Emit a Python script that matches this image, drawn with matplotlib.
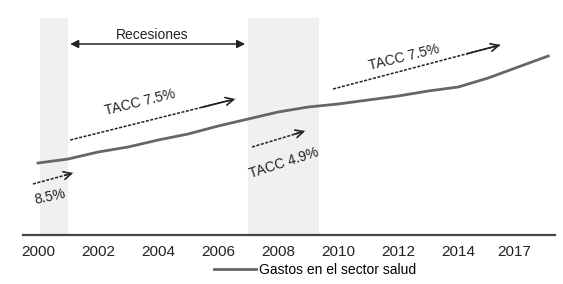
import matplotlib.pyplot as plt

# datos
years = list(range(2000, 2018))
gastos = [72, 76, 83, 88, 95, 101, 109, 116, 123, 128, 131, 135, 139, 144, 148, 157, 168, 179]

tick_pos = [2000, 2002, 2004, 2006, 2008, 2010, 2012, 2014, 2015.85]
tick_labels = ['2000', '2002', '2004', '2006', '2008', '2010', '2012', '2014', '2017']

# periodos de recesión (sombreados)
recesiones = [(2000.05, 2001.0), (2007.0, 2009.35)]

# anotaciones TACC: (texto, inicio, fin, posición texto, rotación)
tacc = [
    ('8.5%', (1999.83, 51), (2001.17, 62), (2000.4, 38), 12),
    ('TACC 7.5%', (2001.07, 95), (2006.57, 136), (2003.4, 133), 14),
    ('TACC 4.9%', (2007.13, 88), (2008.9, 104), (2008.2, 72), 18),
    ('TACC 7.5%', (2009.83, 146), (2015.4, 190), (2012.2, 178), 14),
]

plt.rcParams['font.family'] = ['Liberation Sans', 'DejaVu Sans']

fig = plt.figure(figsize=(5.63, 2.84), dpi=100)
ax = fig.add_axes([0.041, 0.1725, 0.945, 0.8275])

for a, b in recesiones:
    ax.fill_between([a, b], 0, 217, color='#f0f0f0', lw=0, zorder=0)

ax.plot(years, gastos, color='#666666', lw=2.0, label='Gastos en el sector salud', zorder=3)

# flecha de recesiones
ax.annotate('', xy=(2001.07, 191), xytext=(2006.9, 191),
            arrowprops=dict(arrowstyle='<|-|>', color='#222222', lw=1.1,
                            mutation_scale=12, shrinkA=0, shrinkB=0))
ax.text(2003.8, 200, 'Recesiones', ha='center', va='center', fontsize=10, color='#222222')

for txt, p0, p1, pt, rot in tacc:
    ax.plot([p0[0], p1[0]], [p0[1], p1[1]], color='#222222', lw=1.1, ls=(0, (2, 1)))
    ax.annotate('', xy=p1, xytext=(p1[0] - (p1[0] - p0[0]) * 0.2, p1[1] - (p1[1] - p0[1]) * 0.2),
                arrowprops=dict(arrowstyle='->', color='#222222', lw=1.2,
                                mutation_scale=14, shrinkA=0, shrinkB=0))
    ax.text(pt[0], pt[1], txt, ha='center', va='center', fontsize=10,
            rotation=rot, rotation_mode='anchor', color='#222222')

ax.set_xlim(1999.5, 2017.23)
ax.set_ylim(0, 235)
ax.set_xticks(tick_pos)
ax.set_xticklabels(tick_labels, fontsize=11, color='#222222')
ax.set_yticks([])
ax.tick_params(axis='x', length=0, pad=7)
for s in ['top', 'right', 'left']:
    ax.spines[s].set_visible(False)
ax.spines['bottom'].set_color('#444444')
ax.spines['bottom'].set_linewidth(1.6)

fig.legend(loc='center', bbox_to_anchor=(0.56, 0.05), frameon=False, fontsize=10,
           handlelength=3.0, handletextpad=0.2)

plt.savefig('out.png', dpi=100)
